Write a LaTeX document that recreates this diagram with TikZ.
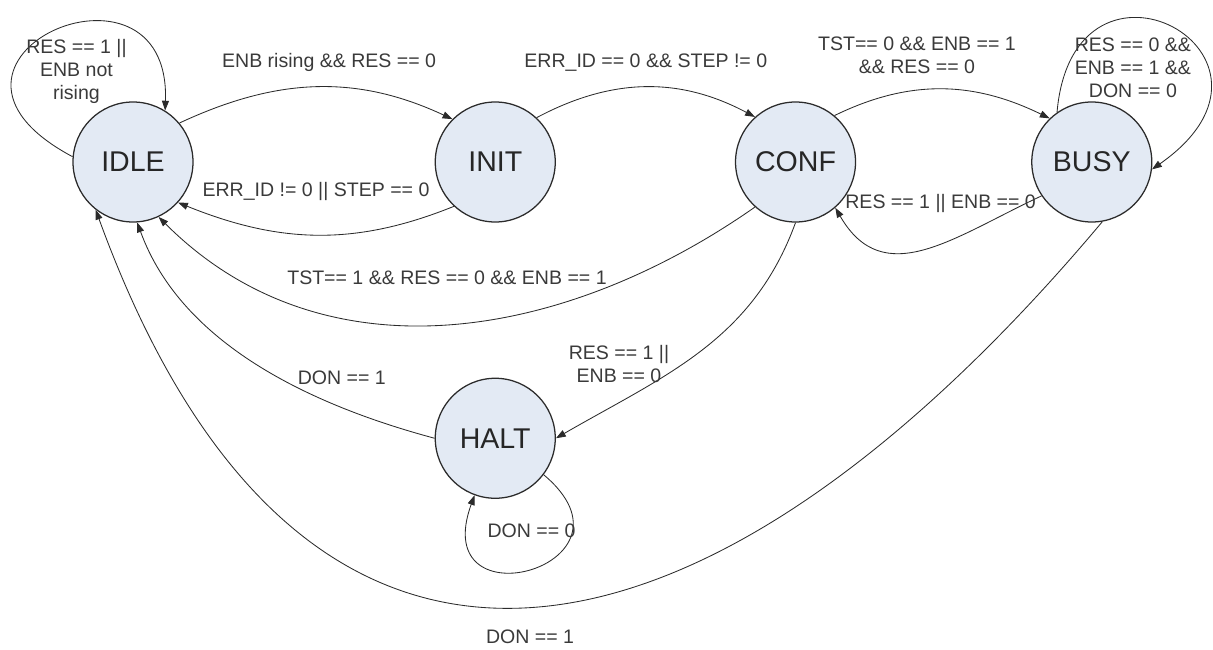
\documentclass[tikz,border=0pt]{standalone}
\usepackage{fontspec}
\setmainfont{Liberation Sans}
\usetikzlibrary{arrows.meta,positioning}
\definecolor{FsmFill}{HTML}{E3EAF4}
\definecolor{FsmLine}{HTML}{2B2B2B}
\definecolor{FsmText}{HTML}{3A3A3A}
\begin{document}
\begin{tikzpicture}[node distance=4.4cm]
\tikzset{fsm/.style={circle,draw=FsmLine,line width=.9pt,fill=FsmFill,minimum size=3cm,inner sep=0pt,font=\fontsize{20.3}{24}\selectfont,text=black!85},lbl/.style={font=\fontsize{13.9}{16.4}\selectfont,text=FsmText,align=center,inner sep=0pt},arr/.style={-{Triangle[length=7pt,width=5pt]},FsmLine,line width=.6pt}}
\node[fsm] (idle) {IDLE};
\node[fsm,right=6.025cm of idle] (init) {INIT};
\node[fsm,right=4.475cm of init] (conf) {CONF};
\node[fsm,right=4.375cm of conf] (busy) {BUSY};
\node[fsm,below=3.875cm of init] (halt) {HALT};
\useasboundingbox (-3.325,-12.2) rectangle (27,4.05);
% top row, forward
\draw[arr] (idle.40) to[out=25,in=155] node[lbl,pos=.55,above=11pt] {ENB rising \&\& RES == 0} (init.135);
\draw[arr] (init.47) to[out=28,in=152] node[lbl,above=11pt] {ERR\_ID == 0 \&\& STEP != 0} (conf.132);
\draw[arr] (conf.50) to[out=26,in=154] node[lbl,pos=.38,above=11.5pt] {TST== 0 \&\& ENB == 1\\\&\& RES == 0} (busy.134);
% going back
\draw[arr] (busy.214) to[out=205,in=-60,looseness=1.2] node[lbl,pos=.42,above=22pt] {RES == 1 || ENB == 0} (conf.-49);
\draw[arr] (init.227) to[out=202,in=-22] node[lbl,above=24pt] {ERR\_ID != 0 || STEP == 0} (idle.-42);
\draw[arr] (conf.228) to[out=215,in=-45] node[lbl,above=28pt] {TST== 1 \&\& RES == 0 \&\& ENB == 1} (idle.-65);
\draw[arr] (conf.-90) to[out=250,in=30] node[lbl,pos=.62,left,yshift=6pt] {RES == 1 ||\\ENB == 0} (halt.0);
\draw[arr] (halt.180) to[out=165,in=290,looseness=.9] node[lbl,pos=.25,above=16pt] {DON == 1} (idle.-86);
\draw[arr] (busy.-80) to[out=230,in=-70,looseness=1.55] node[lbl,below=16pt] {DON == 1} (idle.-128);
% self loops
\draw[arr] (idle.175) to[out=152,in=88,out looseness=5.1,in looseness=4.3] node[lbl,pos=.58,below=10pt] {RES == 1 ||\\ENB not\\rising} (idle.58);
\draw[arr] (busy.125) to[out=85,in=35,out looseness=4.36,in looseness=4.6] node[lbl,pos=.36,below=13.7pt] {RES == 0 \&\&\\ENB == 1 \&\&\\DON == 0} (busy.-7);
\draw[arr] (halt.-37) to[out=-40,in=250,looseness=5] node[lbl,above=22pt] {DON == 0} (halt.-110);
\end{tikzpicture}
\end{document}
